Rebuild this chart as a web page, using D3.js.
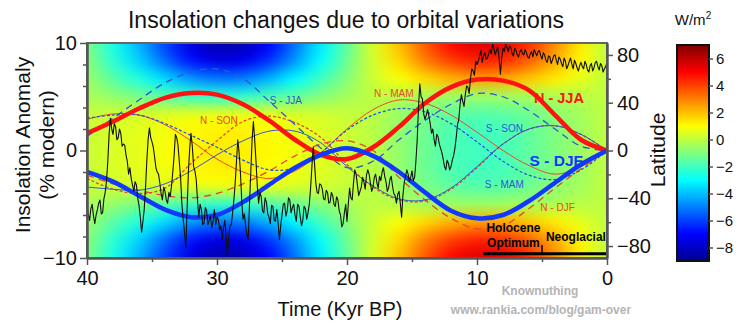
<!DOCTYPE html>
<html>
<head>
<meta charset="utf-8">
<title>Insolation changes due to orbital variations</title>
<style>
  body { margin: 0; background: #fff; }
  svg { display: block; font-family: 'Liberation Sans', Arial, sans-serif; }
</style>
</head>
<body>
<svg id="chart" width="740" height="324"></svg>
<script src="https://cdn.jsdelivr.net/npm/d3@7"></script>
<script>
// ---- data ---------------------------------------------------------------

// ages (kyr BP) of the seasonal insolation curves and of the field columns
const ages = [40, 38, 36, 34, 32, 30, 28, 26, 24, 22, 20, 18, 16, 14, 12, 10, 8, 6, 4, 2, 0];

// seasonal insolation anomaly, % of modern
const nJJA = [1.6, 2.7, 3.9, 4.9, 5.35, 5.2, 4.3, 2.8, 1.0, -0.4, -0.8, 0.3, 2.2, 4.4, 5.9, 6.6, 6.5, 5.6, 3.3, 1.0, 0];
const sDJF = [-2.0, -2.9, -4.2, -5.5, -6.2, -6.0, -4.8, -3.2, -1.6, -0.4, 0.2, -0.5, -2.0, -3.9, -5.6, -6.3, -6.0, -4.7, -3.0, -1.3, 0];
const sJJA = [1.3, 3.0, 4.7, 6.3, 7.3, 7.6, 6.7, 4.6, 2.4, 0.2, -1.6, -1.0, 1.0, 2.8, 4.3, 5.3, 5.0, 3.7, 2.0, 0.4, 0];
const nDJF = [-2.3, -3.1, -3.7, -4.2, -4.4, -4.0, -3.1, -1.9, -0.5, 0.6, 0.9, 0.0, -2.5, -4.6, -6.3, -7.3, -7.0, -5.4, -3.5, -1.7, 0];
const nMAM = [2.9, 3.4, 3.3, 2.4, 0.9, -0.8, -2.0, -2.6, -1.9, -0.2, 2.0, 3.8, 4.7, 4.4, 3.3, 1.7, 0.0, -1.4, -2.2, -1.5, 0];
const sMAM = [3.0, 3.3, 3.3, 2.5, 1.4, 0.3, -0.9, -1.8, -1.6, -0.2, 1.9, 3.3, 3.9, 3.6, 2.5, 0.8, -1.0, -2.3, -2.7, -1.8, 0];
const sSON = [-3.4, -3.6, -3.7, -3.1, -1.9, -0.4, 0.9, 1.8, 1.8, 0.7, -1.5, -3.3, -4.5, -4.6, -3.5, -1.5, 0.6, 2.0, 2.3, 1.5, 0];
const nSON = [-2.6, -3.6, -4.0, -3.5, -1.2, 0.9, 2.7, 3.2, 2.6, 1.2, -1.3, -3.4, -4.6, -4.7, -3.6, -1.6, 0.6, 2.0, 2.3, 1.5, 0];

// ice core temperature proxy, every 0.1 kyr from 40 kyr BP to present (scaled to left axis)
const proxyStart = 40, proxyStep = 0.1;
const proxy = [
  -5.2, -5.9, -6.5, -5.4, -5.0, -6.1, -6.8, -6.0, -5.5, -4.9, -4.6, -5.9, -5.8, -4.5, -3.9, -2.8, -1.0, 1.5, 3.0, 2.0,
  1.5, 2.5, 2.2, 1.0, 1.2, 2.0, 1.6, 0.4, 0.6, 0.5, -0.4, -1.0, -2.2, -1.6, -2.6, -3.2, -3.8, -2.9, -3.2, -4.4,
  -5.1, -6.2, -7.6, -6.6, -5.5, -3.5, -1.0, 1.0, 2.1, 1.2, 0.8, 0.3, -0.6, -1.6, -2.0, -2.2, -3.0, -4.0, -4.6, -3.4,
  -3.8, -4.6, -4.9, -3.9, -4.3, -3.3, -2.0, -0.5, 1.5, 1.2, 0.5, -1.0, -2.5, -5.0, -6.4, -7.6, -9.0, -5.5, -2.0, 0.2,
  1.6, 0.4, -1.5, -1.9, -2.7, -4.6, -6.2, -5.0, -5.5, -6.9, -6.8, -5.3, -5.6, -6.9, -6.5, -6.1, -7.2, -6.6, -5.5, -6.9,
  -6.2, -6.4, -7.4, -7.0, -8.3, -7.2, -6.5, -8.0, -9.9, -8.0, -7.0, -6.9, -5.8, -4.6, -3.0, -1.0, 1.0, -0.2, -2.0, -4.6,
  -6.4, -5.9, -7.0, -7.8, -8.3, -5.0, -2.0, 1.0, 2.7, 1.0, -1.0, -3.3, -4.9, -3.9, -4.3, -5.6, -5.8, -4.4, -4.8, -5.9,
  -6.2, -6.8, -5.1, -5.2, -6.5, -6.6, -5.5, -6.7, -8.3, -7.0, -6.0, -5.0, -4.9, -6.1, -5.6, -4.4, -4.6, -5.8, -5.3, -5.0,
  -6.0, -6.6, -5.0, -5.2, -6.1, -7.0, -6.5, -5.2, -5.4, -6.4, -5.8, -5.0, -3.5, -1.5, 0.3, -1.2, -3.0, -3.9, -4.0, -3.1,
  -3.2, -3.6, -4.5, -4.6, -3.7, -3.9, -4.9, -4.8, -3.9, -4.2, -5.0, -5.2, -4.3, -4.6, -5.6, -6.0, -7.1, -6.8, -5.8, -5.0,
  -6.6, -5.0, -3.5, -4.4, -4.6, -3.0, -1.8, -2.2, -3.2, -4.2, -3.8, -3.4, -2.5, -2.9, -3.6, -2.3, -1.8, -2.2, -3.0, -3.8,
  -3.4, -2.5, -2.2, -3.0, -3.5, -2.4, -2.8, -2.0, -1.6, -2.4, -2.9, -3.8, -3.5, -2.7, -2.4, -3.3, -4.0, -4.2, -4.9, -4.1,
  -3.8, -4.9, -6.2, -4.2, -3.0, -2.4, -1.8, -2.2, -2.9, -2.5, -1.9, -2.8, -2.5, -1.0, 1.0, 4.0, 6.2, 5.0, 4.8, 3.4,
  2.9, 3.3, 3.8, 3.2, 2.5, 1.6, 2.0, 1.0, 0.4, 1.5, 1.3, 0.6, 0.2, -0.2, -0.8, -1.5, -1.8, -0.9, -1.2, -1.8,
  -1.5, -0.9, -0.5, 0.2, 1.2, 2.4, 2.9, 4.3, 5.2, 4.6, 4.1, 5.2, 6.0, 5.9, 5.3, 6.7, 7.6, 7.4, 7.0, 8.3,
  8.0, 8.3, 8.8, 9.3, 8.2, 8.8, 9.1, 8.5, 8.6, 9.0, 9.4, 9.0, 9.9, 9.5, 8.9, 9.3, 9.6, 8.6, 7.1, 8.6,
  9.5, 9.2, 9.9, 9.6, 9.2, 9.7, 9.6, 9.0, 8.8, 9.5, 9.3, 8.9, 8.7, 9.2, 9.4, 9.0, 8.9, 9.4, 9.1, 8.7,
  8.6, 9.0, 9.2, 8.7, 9.4, 9.1, 8.8, 9.2, 9.3, 8.8, 8.5, 9.1, 8.9, 8.4, 8.2, 8.8, 8.7, 8.1, 8.4, 8.8,
  8.9, 8.4, 8.0, 8.7, 8.5, 8.1, 7.8, 8.6, 8.3, 7.6, 7.9, 8.3, 8.6, 8.0, 7.6, 8.4, 8.1, 7.7, 7.4, 7.9,
  8.2, 7.8, 7.6, 8.3, 8.0, 7.5, 7.3, 7.9, 8.1, 7.4, 7.7, 8.2, 8.3, 7.8, 7.5, 8.1, 7.9, 7.3, 7.6, 7.8,
  8.2
];

// annual mean insolation anomaly (W/m2) by latitude (rows) and age (columns = ages)
const fieldLats = [90, 75, 60, 45, 30, 15, 0, -15, -30, -45, -60, -75, -90];
const field = [
  [-1.0, -2.6, -4.2, -6.0, -7.6, -8.5, -8.3, -7.0, -5.2, -3.3, -1.5, 0.4, 2.0, 3.6, 4.9, 5.5, 5.3, 4.3, 2.8, 1.3, 0],
  [-0.9, -2.3, -3.7, -5.3, -6.7, -7.5, -7.3, -6.2, -4.6, -2.9, -1.3, 0.3, 1.6, 3.0, 4.0, 4.5, 4.3, 3.5, 2.3, 1.1, 0],
  [-0.6, -1.6, -2.5, -3.6, -4.6, -5.1, -5.0, -4.2, -3.1, -2.0, -0.9, 0.2, 0.9, 1.6, 2.2, 2.5, 2.4, 1.9, 1.3, 0.6, 0],
  [-0.3, -0.7, -1.1, -1.6, -2.0, -2.2, -2.2, -1.8, -1.4, -0.9, -0.4, 0.0, -0.2, -0.4, -0.5, -0.6, -0.5, -0.4, -0.3, -0.1, 0],
  [0.1, 0.2, 0.3, 0.5, 0.6, 0.7, 0.7, 0.6, 0.4, 0.3, 0.1, -0.1, -0.6, -1.1, -1.5, -1.7, -1.6, -1.3, -0.8, -0.4, 0],
  [0.1, 0.4, 0.6, 0.8, 1.1, 1.2, 1.2, 1.0, 0.7, 0.5, 0.2, -0.1, -0.7, -1.3, -1.8, -2.0, -1.9, -1.5, -1.0, -0.5, 0],
  [0.2, 0.4, 0.6, 0.9, 1.1, 1.3, 1.2, 1.1, 0.8, 0.5, 0.2, -0.1, -0.7, -1.3, -1.8, -2.0, -1.9, -1.5, -1.0, -0.5, 0],
  [0.1, 0.4, 0.6, 0.8, 1.1, 1.2, 1.2, 1.0, 0.7, 0.5, 0.2, -0.1, -0.7, -1.3, -1.8, -2.0, -1.9, -1.5, -1.0, -0.5, 0],
  [0.1, 0.2, 0.3, 0.5, 0.6, 0.7, 0.7, 0.6, 0.4, 0.3, 0.1, -0.1, -0.6, -1.1, -1.5, -1.7, -1.6, -1.3, -0.8, -0.4, 0],
  [-0.3, -0.7, -1.1, -1.6, -2.0, -2.2, -2.2, -1.8, -1.4, -0.9, -0.4, 0.0, -0.2, -0.4, -0.5, -0.6, -0.5, -0.4, -0.3, -0.1, 0],
  [-0.6, -1.6, -2.5, -3.6, -4.6, -5.1, -5.0, -4.2, -3.1, -2.0, -0.9, 0.2, 0.9, 1.6, 2.2, 2.5, 2.4, 1.9, 1.3, 0.6, 0],
  [-0.9, -2.3, -3.7, -5.3, -6.7, -7.5, -7.3, -6.2, -4.6, -2.9, -1.3, 0.3, 1.6, 3.0, 4.0, 4.5, 4.3, 3.5, 2.3, 1.1, 0],
  [-1.0, -2.6, -4.2, -6.0, -7.6, -8.5, -8.3, -7.0, -5.2, -3.3, -1.5, 0.4, 2.0, 3.6, 4.9, 5.5, 5.3, 4.3, 2.8, 1.3, 0]
];

const colorTicks = [6, 4, 2, 0, -2, -4, -6, -8];
const periods = [
  { lines: ['Holocene', 'Optimum'], from: 9.5, to: 5 },
  { lines: ['Neoglacial'], from: 5, to: 0 }
];

// ---- layout ---------------------------------------------------------------

const svg = d3.select('#chart');
const plot = { left: 87, right: 607, top: 43, bottom: 258 };
const pw = plot.right - plot.left, ph = plot.bottom - plot.top;

const x = d3.scaleLinear().domain([40, 0]).range([plot.left, plot.right]);
const y = d3.scaleLinear().domain([-10, 10]).range([plot.bottom, plot.top]);
const yLat = d3.scaleLinear().domain([-90, 90]).range([plot.bottom, plot.top]);

// jet colour map, -9 .. 7 W/m2
const color = d3.scaleLinear()
  .domain([-9, -7, -3, 1, 5, 7])
  .range(['#00008f', '#0000ff', '#00ffff', '#ffff00', '#ff0000', '#800000'])
  .clamp(true);

const red = '#e8482a', blue = '#2a58d6';

svg.append('defs').append('clipPath').attr('id', 'plot-clip')
  .append('rect').attr('x', plot.left).attr('y', plot.top).attr('width', pw).attr('height', ph);

// ---- heat field -------------------------------------------------------------

const nC = ages.length, nR = fieldLats.length;
const small = document.createElement('canvas');
small.width = nC; small.height = nR;
const sctx = small.getContext('2d');
const im = sctx.createImageData(nC, nR);
field.forEach((row, r) => row.forEach((v, c) => {
  const col = d3.rgb(color(v));
  const k = 4 * (r * nC + c);
  im.data[k] = col.r; im.data[k + 1] = col.g; im.data[k + 2] = col.b; im.data[k + 3] = 255;
}));
sctx.putImageData(im, 0, 0);

const big = document.createElement('canvas');
big.width = pw; big.height = ph;
const bctx = big.getContext('2d');
bctx.imageSmoothingEnabled = true;
bctx.imageSmoothingQuality = 'high';
const ageStep = ages[0] - ages[1], latStep = fieldLats[0] - fieldLats[1];
const fx0 = x(ages[0] + ageStep / 2) - plot.left, fx1 = x(ages[nC - 1] - ageStep / 2) - plot.left;
const fy0 = yLat(fieldLats[0] + latStep / 2) - plot.top, fy1 = yLat(fieldLats[nR - 1] - latStep / 2) - plot.top;
bctx.drawImage(small, fx0, fy0, fx1 - fx0, fy1 - fy0);

svg.append('image')
  .attr('x', plot.left).attr('y', plot.top)
  .attr('width', pw).attr('height', ph)
  .attr('preserveAspectRatio', 'none')
  .attr('href', big.toDataURL());

// ---- insolation curves -------------------------------------------------------

const line = d3.line()
  .x(d => x(d[0]))
  .y(d => y(d[1]))
  .curve(d3.curveCatmullRom.alpha(0.5));

const series = [
  { values: nMAM, color: red, width: 1, dash: null },
  { values: nSON, color: red, width: 1.3, dash: '3,2' },
  { values: nDJF, color: red, width: 1.3, dash: '7,5' },
  { values: sSON, color: blue, width: 1, dash: null },
  { values: sMAM, color: blue, width: 1.3, dash: '3,2' },
  { values: sJJA, color: blue, width: 1.3, dash: '7,5' },
  { values: nJJA, color: '#ff1212', width: 4.5, dash: null },
  { values: sDJF, color: '#1238ff', width: 4.5, dash: null }
];

svg.append('g').attr('clip-path', 'url(#plot-clip)')
  .selectAll('path')
  .data(series)
  .join('path')
  .attr('d', s => line(ages.map((a, i) => [a, s.values[i]])))
  .attr('fill', 'none')
  .attr('stroke', s => s.color)
  .attr('stroke-width', s => s.width)
  .attr('stroke-dasharray', s => s.dash);

// proxy record
const proxyLine = d3.line().x(d => x(d[0])).y(d => y(d[1]));
svg.append('path')
  .attr('clip-path', 'url(#plot-clip)')
  .attr('d', proxyLine(proxy.map((v, i) => [proxyStart - i * proxyStep, v])))
  .attr('fill', 'none')
  .attr('stroke', '#111')
  .attr('stroke-width', 1.1)
  .attr('stroke-linejoin', 'round');

// ---- curve labels -------------------------------------------------------------

const labels = [
  { text: 'N - JJA', age: 3.7, v: 4.45, color: '#ff1212', size: 14.5, bold: true },
  { text: 'S - DJF', age: 3.9, v: -1.45, color: '#1238ff', size: 15.5, bold: true },
  { text: 'S - JJA', age: 24.7, v: 4.35, color: blue, size: 10 },
  { text: 'N - SON', age: 29.85, v: 2.5, color: red, size: 10 },
  { text: 'N - MAM', age: 16.4, v: 5.0, color: red, size: 10 },
  { text: 'S - SON', age: 7.9, v: 1.75, color: blue, size: 10 },
  { text: 'S - MAM', age: 7.9, v: -3.45, color: blue, size: 10 },
  { text: 'N - DJF', age: 3.8, v: -5.6, color: red, size: 10 }
];

svg.append('g').selectAll('text')
  .data(labels)
  .join('text')
  .attr('x', d => x(d.age))
  .attr('y', d => y(d.v))
  .attr('text-anchor', 'middle')
  .attr('font-size', d => d.size)
  .attr('font-weight', d => d.bold ? 'bold' : 'normal')
  .attr('fill', d => d.color)
  .text(d => d.text);

// Holocene period bar
const barV = -9.6;
const pg = svg.append('g');
pg.append('line')
  .attr('x1', x(periods[0].from)).attr('x2', x(periods[periods.length - 1].to))
  .attr('y1', y(barV)).attr('y2', y(barV))
  .attr('stroke', '#000').attr('stroke-width', 3);
pg.append('line')
  .attr('x1', x(periods[1].from)).attr('x2', x(periods[1].from))
  .attr('y1', y(barV)).attr('y2', y(-8.8))
  .attr('stroke', '#000').attr('stroke-width', 1.5);
pg.append('text')
  .attr('x', x(7.2)).attr('y', y(-7.6))
  .attr('text-anchor', 'middle').attr('font-size', 12).attr('font-weight', 'bold')
  .selectAll('tspan').data(periods[0].lines).join('tspan')
  .attr('x', x(7.2)).attr('dy', (d, i) => i ? 15 : 0)
  .text(d => d);
pg.append('text')
  .attr('x', x(4.7)).attr('y', y(-8.4))
  .attr('font-size', 12).attr('font-weight', 'bold')
  .text(periods[1].lines[0]);

// ---- axes ---------------------------------------------------------------------

function styleAxis(g, size) {
  g.select('.domain').attr('stroke', '#555').attr('stroke-width', 2);
  g.selectAll('.tick line').attr('stroke', '#555').attr('stroke-width', 1.5);
  g.selectAll('.tick text').attr('font-size', size).attr('fill', '#111')
    .attr('font-family', "'Liberation Sans', Arial, sans-serif");
}

// frame
svg.append('rect')
  .attr('x', plot.left).attr('y', plot.top).attr('width', pw).attr('height', ph)
  .attr('fill', 'none').attr('stroke', '#666').attr('stroke-width', 2);

svg.append('g').attr('transform', `translate(${plot.left},0)`)
  .call(d3.axisLeft(y).tickValues(d3.range(-8, 10, 2).filter(d => d !== 0)).tickSize(4).tickSizeOuter(0).tickFormat(''))
  .call(g => styleAxis(g, 20));
svg.append('g').attr('transform', `translate(${plot.left},0)`)
  .call(d3.axisLeft(y).tickValues([-10, 0, 10]).tickSize(7).tickSizeOuter(0).tickPadding(3))
  .call(g => styleAxis(g, 20));

svg.append('g').attr('transform', `translate(0,${plot.bottom})`)
  .call(d3.axisBottom(x).tickValues([35, 25, 15, 5]).tickSize(4).tickSizeOuter(0).tickFormat(''))
  .call(g => styleAxis(g, 20));
svg.append('g').attr('transform', `translate(0,${plot.bottom})`)
  .call(d3.axisBottom(x).tickValues([40, 30, 20, 10, 0]).tickSize(7).tickSizeOuter(0).tickPadding(6))
  .call(g => styleAxis(g, 20));

svg.append('g').attr('transform', `translate(${plot.right},0)`)
  .call(d3.axisRight(yLat).tickValues([60, 20, -20, -60]).tickSize(4).tickSizeOuter(0).tickFormat(''))
  .call(g => styleAxis(g, 20));
svg.append('g').attr('transform', `translate(${plot.right},0)`)
  .call(d3.axisRight(yLat).tickValues([80, 40, 0, -40, -80]).tickSize(6).tickSizeOuter(0).tickPadding(4))
  .call(g => styleAxis(g, 20));

// axis titles
svg.append('text')
  .attr('x', 346).attr('y', 28)
  .attr('text-anchor', 'middle').attr('font-size', 23).attr('fill', '#111')
  .text('Insolation changes due to orbital variations');

svg.append('text')
  .attr('transform', 'translate(30,145) rotate(-90)')
  .attr('text-anchor', 'middle').attr('font-size', 21).attr('fill', '#111')
  .text('Insolation Anomaly');
svg.append('text')
  .attr('transform', 'translate(54,145) rotate(-90)')
  .attr('text-anchor', 'middle').attr('font-size', 21).attr('fill', '#111')
  .text('(% modern)');

svg.append('text')
  .attr('transform', 'translate(665,150) rotate(-90)')
  .attr('text-anchor', 'middle').attr('font-size', 21).attr('fill', '#111')
  .text('Latitude');

svg.append('text')
  .attr('x', 340).attr('y', 316)
  .attr('text-anchor', 'middle').attr('font-size', 20).attr('fill', '#111')
  .text('Time (Kyr BP)');

// watermark
svg.append('text')
  .attr('x', 540).attr('y', 295)
  .attr('text-anchor', 'middle').attr('font-size', 12).attr('font-weight', 'bold').attr('fill', '#b4b4b4')
  .text('Knownuthing');
svg.append('text')
  .attr('x', 541).attr('y', 314)
  .attr('text-anchor', 'middle').attr('font-size', 12).attr('font-weight', 'bold').attr('fill', '#b4b4b4')
  .text('www.rankia.com/blog/gam-over');

// ---- colour bar ------------------------------------------------------------------

const cb = { left: 677, width: 32, top: 45, bottom: 261 };
const cbScale = d3.scaleLinear().domain([-9, 7]).range([cb.bottom, cb.top]);

const grad = svg.select('defs').append('linearGradient')
  .attr('id', 'cb-grad').attr('x1', 0).attr('x2', 0).attr('y1', 1).attr('y2', 0);
grad.selectAll('stop')
  .data(color.domain())
  .join('stop')
  .attr('offset', d => (d + 9) / 16)
  .attr('stop-color', d => color(d));

svg.append('rect')
  .attr('x', cb.left).attr('y', cb.top)
  .attr('width', cb.width).attr('height', cb.bottom - cb.top)
  .attr('fill', 'url(#cb-grad)')
  .attr('stroke', '#111').attr('stroke-width', 2);

svg.append('g').attr('transform', `translate(${cb.left + cb.width},0)`)
  .call(d3.axisRight(cbScale).tickValues(colorTicks).tickSize(4).tickSizeOuter(0).tickPadding(3))
  .call(g => g.select('.domain').remove())
  .call(g => styleAxis(g, 15));

const unit = svg.append('text')
  .attr('x', 693).attr('y', 25)
  .attr('text-anchor', 'middle').attr('font-size', 15).attr('fill', '#111');
unit.append('tspan').text('W/m');
unit.append('tspan').attr('font-size', 10).attr('dy', -6).text('2');
</script>
</body>
</html>
